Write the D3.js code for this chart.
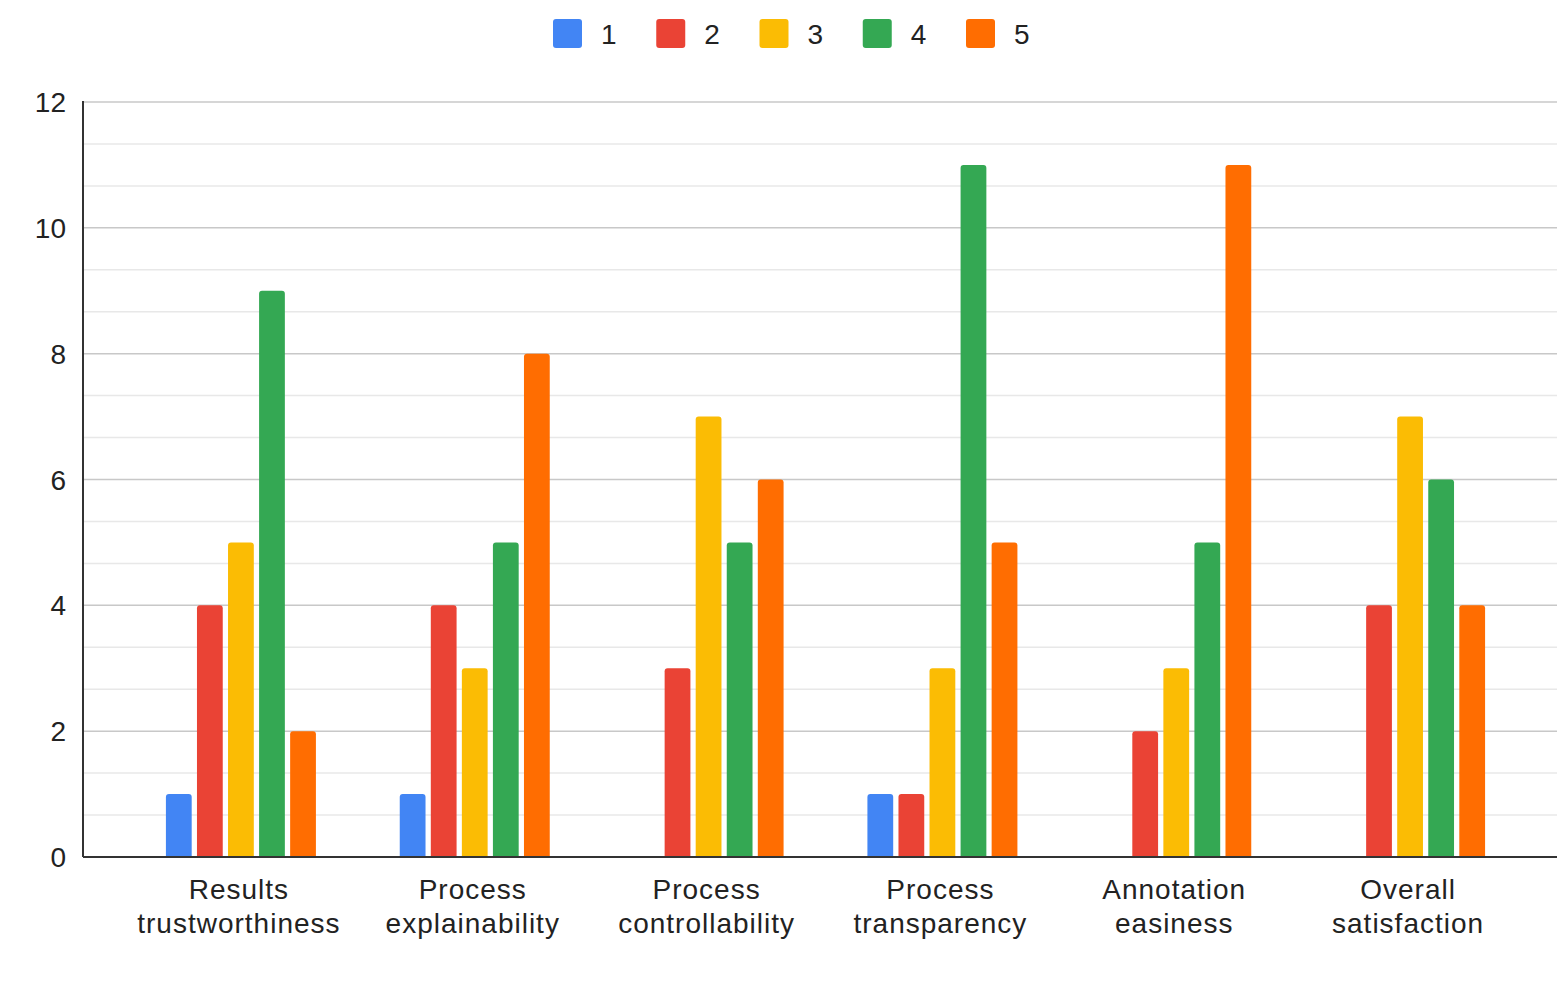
<!DOCTYPE html>
<html>
<head>
<meta charset="utf-8">
<script src="https://cdn.jsdelivr.net/npm/d3@7"></script>
<style>
  body { margin: 0; background: #fff; }
  svg { display: block; }
</style>
</head>
<body>
<svg id="chart"></svg>
<script>
// data
const categories = [
  ["Results", "trustworthiness"],
  ["Process", "explainability"],
  ["Process", "controllability"],
  ["Process", "transparency"],
  ["Annotation", "easiness"],
  ["Overall", "satisfaction"]
];
const seriesNames = ["1", "2", "3", "4", "5"];
const s1 = [1, 1, 0, 1, 0, 0];
const s2 = [4, 4, 3, 1, 2, 4];
const s3 = [5, 3, 7, 3, 3, 7];
const s4 = [9, 5, 5, 11, 5, 6];
const s5 = [2, 8, 6, 5, 11, 4];
const yTicks = [0, 2, 4, 6, 8, 10, 12];
const seriesColors = ["#4285f4", "#ea4335", "#fbbc04", "#34a853", "#ff6d01"];

const series = [s1, s2, s3, s4, s5];
const width = 1557, height = 988;
const font = "'Liberation Sans', Arial, sans-serif";

const svg = d3.select("#chart")
  .attr("width", width)
  .attr("height", height)
  .attr("font-family", font);

const plotLeft = 83, plotRight = 1557, plotTop = 102, plotBottom = 857;

const y = d3.scaleLinear().domain([0, 12]).range([plotBottom, plotTop]);

const x0 = d3.scaleBand()
  .domain(d3.range(categories.length))
  .range([124, 1527]);

const x1 = d3.scaleBand()
  .domain(d3.range(seriesNames.length))
  .range([-75, 75])
  .paddingInner(0.17);

// gridlines: minor every 2/3, major every 2
const minor = d3.range(0, 12.01, 2 / 3).filter(v => Math.abs(v / 2 - Math.round(v / 2)) > 0.01);
svg.append("g").selectAll("line")
  .data(minor)
  .enter().append("line")
  .attr("x1", plotLeft).attr("x2", plotRight)
  .attr("y1", d => y(d)).attr("y2", d => y(d))
  .attr("stroke", "#e8e8e8")
  .attr("stroke-width", 1.5);

svg.append("g").selectAll("line")
  .data(yTicks.filter(d => d > 0))
  .enter().append("line")
  .attr("x1", plotLeft).attr("x2", plotRight)
  .attr("y1", d => y(d)).attr("y2", d => y(d))
  .attr("stroke", "#c8c8c8")
  .attr("stroke-width", 1.5);

// y tick labels
svg.append("g").selectAll("text")
  .data(yTicks)
  .enter().append("text")
  .attr("x", 66)
  .attr("y", d => y(d))
  .attr("dy", "0.36em")
  .attr("text-anchor", "end")
  .attr("font-size", 28)
  .attr("fill", "#222")
  .text(d => d);

// bars with slightly rounded tops
function barPath(xl, w, yt, yb, r) {
  r = Math.min(r, (yb - yt));
  return "M" + xl + "," + yb +
    "L" + xl + "," + (yt + r) +
    "Q" + xl + "," + yt + " " + (xl + r) + "," + yt +
    "L" + (xl + w - r) + "," + yt +
    "Q" + (xl + w) + "," + yt + " " + (xl + w) + "," + (yt + r) +
    "L" + (xl + w) + "," + yb + "Z";
}

const groups = svg.append("g").selectAll("g")
  .data(categories.map((c, i) => i))
  .enter().append("g")
  .attr("transform", i => "translate(" + (x0(i) + x0.bandwidth() / 2) + ",0)");

groups.selectAll("path")
  .data(i => series.map((s, k) => ({k: k, v: s[i]})).filter(d => d.v > 0))
  .enter().append("path")
  .attr("fill", d => seriesColors[d.k])
  .attr("d", d => barPath(x1(d.k), x1.bandwidth(), y(d.v), y(0), 3));

// axes lines
svg.append("line")
  .attr("x1", plotLeft).attr("x2", plotLeft)
  .attr("y1", plotTop - 1).attr("y2", plotBottom)
  .attr("stroke", "#333").attr("stroke-width", 2);
svg.append("line")
  .attr("x1", plotLeft).attr("x2", plotRight)
  .attr("y1", plotBottom).attr("y2", plotBottom)
  .attr("stroke", "#333").attr("stroke-width", 2);

// category labels
const catText = svg.append("g").selectAll("text")
  .data(categories.map((c, i) => ({c: c, i: i})))
  .enter().append("text")
  .attr("text-anchor", "middle")
  .attr("font-size", 28)
  .attr("letter-spacing", 1)
  .attr("fill", "#222")
  .attr("x", d => x0(d.i) + x0.bandwidth() / 2 - 2);
catText.append("tspan")
  .attr("x", d => x0(d.i) + x0.bandwidth() / 2 - 2)
  .attr("y", 899)
  .text(d => d.c[0]);
catText.append("tspan")
  .attr("x", d => x0(d.i) + x0.bandwidth() / 2 - 2)
  .attr("y", 933)
  .text(d => d.c[1]);

// legend
const legendX = d3.scalePoint().domain(seriesNames).range([553, 966]);
const legend = svg.append("g").selectAll("g")
  .data(seriesNames)
  .enter().append("g")
  .attr("transform", d => "translate(" + legendX(d) + ",19)");
legend.append("rect")
  .attr("width", 29).attr("height", 29)
  .attr("rx", 3)
  .attr("fill", (d, i) => seriesColors[i]);
legend.append("text")
  .attr("x", 48)
  .attr("y", 14.5)
  .attr("dy", "0.36em")
  .attr("font-size", 28)
  .attr("fill", "#222")
  .text(d => d);
</script>
</body>
</html>
